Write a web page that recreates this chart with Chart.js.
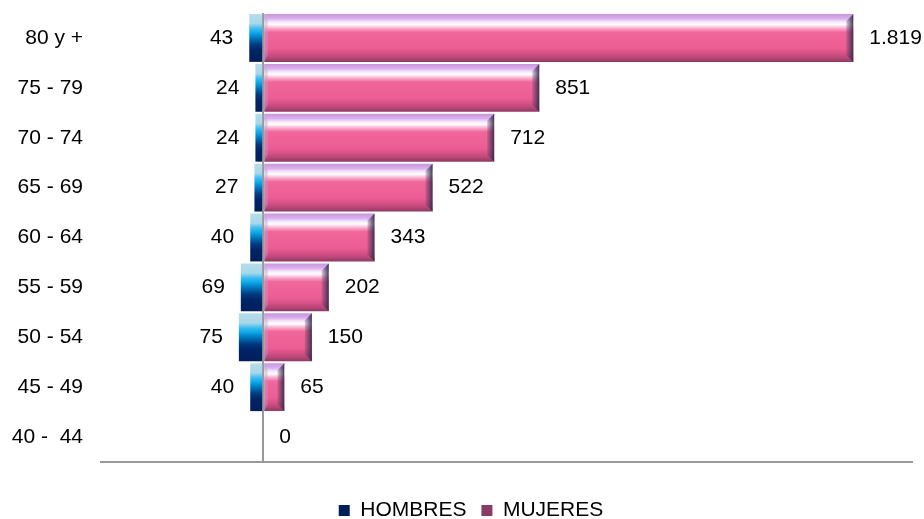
<!DOCTYPE html>
<html>
<head>
<meta charset="utf-8">
<script src="https://cdn.jsdelivr.net/npm/chart.js@4.4.1/dist/chart.umd.min.js"></script>
<style>
  html, body { margin: 0; padding: 0; background: #fff; }
  #wrap { width: 924px; height: 519px; }
</style>
</head>
<body>
<div id="wrap"><canvas id="pyramidChart"></canvas></div>
<script>
// grupos de edad, de mayor a menor
var grupos = ['80 y +', '75 - 79', '70 - 74', '65 - 69', '60 - 64', '55 - 59', '50 - 54', '45 - 49', '40 -  44'];
var hombres = [43, 24, 24, 27, 40, 69, 75, 40, null];
var mujeres = [1819, 851, 712, 522, 343, 202, 150, 65, 0];

var FONT = "'Liberation Sans', Arial, sans-serif";
var FONT_SIZE = 21;
var BAR_PCT = 0.96;

function fmt(v) {
  return String(v).replace(/\B(?=(\d{3})+(?!\d))/g, '.');
}

// vertical gradient spanning the bar of the current row
function rowGradient(stops, solid) {
  return function (c) {
    if (c.type !== 'data' || !c.chart.chartArea) return solid;
    var y = c.chart.scales.y;
    var mid = y.getPixelForValue(c.dataIndex);
    var half = (y.height / grupos.length) * BAR_PCT / 2;
    var g = c.chart.ctx.createLinearGradient(0, mid - half, 0, mid + half);
    stops.forEach(function (s) { g.addColorStop(s[0], s[1]); });
    return g;
  };
}

var azul = [
  [0, '#b6dde9'], [0.2, '#a8d7ea'], [0.3, '#3fbdf0'], [0.4, '#0aa6e6'],
  [0.52, '#006fb6'], [0.64, '#003a80'], [0.76, '#002466'], [1, '#001e5a']
];
var rosa = [
  [0, '#c995dc'], [0.1, '#dbb0ef'], [0.16, '#f3e4fa'], [0.22, '#ffffff'],
  [0.3, '#f9a9cc'], [0.38, '#f0679a'], [0.72, '#ec5d93'], [0.84, '#d24f84'],
  [0.92, '#b84576'], [1, '#8a3a63']
];

// bevelled edges on the MUJERES bars
var bevelPlugin = {
  id: 'bevel',
  afterDatasetsDraw: function (chart) {
    var ctx = chart.ctx;
    chart.getDatasetMeta(1).data.forEach(function (bar, i) {
      if (!mujeres[i]) return;
      var x0 = Math.min(bar.x, bar.base), x1 = Math.max(bar.x, bar.base);
      var y0 = bar.y - bar.height / 2, y1 = bar.y + bar.height / 2;
      var b = Math.min(7, (x1 - x0) / 3);
      ctx.save();
      var gr = ctx.createLinearGradient(x1 - b, 0, x1, 0);
      gr.addColorStop(0, 'rgba(90,60,100,0.25)');
      gr.addColorStop(1, 'rgba(45,40,70,0.9)');
      ctx.fillStyle = gr;
      ctx.beginPath();
      ctx.moveTo(x1, y0); ctx.lineTo(x1 - b, y0 + b); ctx.lineTo(x1 - b, y1 - b); ctx.lineTo(x1, y1);
      ctx.closePath(); ctx.fill();
      ctx.fillStyle = 'rgba(185,165,205,0.45)';
      ctx.beginPath();
      ctx.moveTo(x0, y0); ctx.lineTo(x0 + b * 0.5, y0 + b); ctx.lineTo(x0 + b * 0.5, y1 - b); ctx.lineTo(x0, y1);
      ctx.closePath(); ctx.fill();
      ctx.restore();
    });
  }
};

// value labels beside each bar
var labelPlugin = {
  id: 'valueLabels',
  afterDatasetsDraw: function (chart) {
    var ctx = chart.ctx;
    ctx.save();
    ctx.font = FONT_SIZE + 'px ' + FONT;
    ctx.fillStyle = '#000';
    ctx.textBaseline = 'middle';
    chart.getDatasetMeta(0).data.forEach(function (bar, i) {
      if (hombres[i] == null) return;
      ctx.textAlign = 'right';
      ctx.fillText(fmt(hombres[i]), bar.x - 16, bar.y);
    });
    chart.getDatasetMeta(1).data.forEach(function (bar, i) {
      ctx.textAlign = 'left';
      ctx.fillText(fmt(mujeres[i]), bar.x + 16, bar.y);
    });
    ctx.restore();
  }
};

// move the legend down and a bit to the right
var legendShift = {
  id: 'legendShift',
  afterLayout: function (chart) {
    var lg = chart.legend;
    lg.top += 12; lg.bottom += 12;
    lg.left += 15; lg.right += 15;
  }
};

var ctx = document.getElementById('pyramidChart').getContext('2d');
var pyramidChart = new Chart(ctx, {
  type: 'bar',
  data: {
    labels: grupos,
    datasets: [{
      label: 'HOMBRES',
      data: hombres.map(function (v) { return v == null ? null : -v; }),
      backgroundColor: rowGradient(azul, '#0a6fb4'),
      borderWidth: 0,
      barPercentage: BAR_PCT,
      categoryPercentage: 1
    }, {
      label: 'MUJERES',
      data: mujeres,
      backgroundColor: rowGradient(rosa, '#d2578e'),
      borderWidth: 0,
      barPercentage: BAR_PCT,
      categoryPercentage: 1
    }]
  },
  options: {
    indexAxis: 'y',
    responsive: true,
    maintainAspectRatio: false,
    animation: false,
    layout: { padding: { top: 13, left: 0, right: 12, bottom: 0 } },
    scales: {
      y: {
        stacked: true,
        grid: { display: false, drawTicks: false },
        border: { display: false },
        ticks: { color: '#000', font: { family: FONT, size: FONT_SIZE }, padding: 18 },
        afterFit: function (s) {
          s.width = 101;
          s.paddingTop = 0;
          s.paddingBottom = 0;
        }
      },
      x: {
        stacked: true,
        min: -500,
        max: 2000,
        z: 1,
        ticks: { display: false, stepSize: 500 },
        grid: {
          drawTicks: false,
          lineWidth: 2,
          color: function (c) { return c.tick && c.tick.value === 0 ? '#999999' : 'rgba(0,0,0,0)'; }
        },
        border: { color: '#999999', width: 2 },
        afterFit: function (s) { s.height = 11; }
      }
    },
    plugins: {
      legend: {
        position: 'bottom',
        labels: {
          color: '#000',
          font: { family: FONT, size: FONT_SIZE },
          boxWidth: 11,
          boxHeight: 11,
          padding: 15
        }
      },
      tooltip: { enabled: false }
    }
  },
  plugins: [bevelPlugin, labelPlugin, legendShift]
});
</script>
</body>
</html>
